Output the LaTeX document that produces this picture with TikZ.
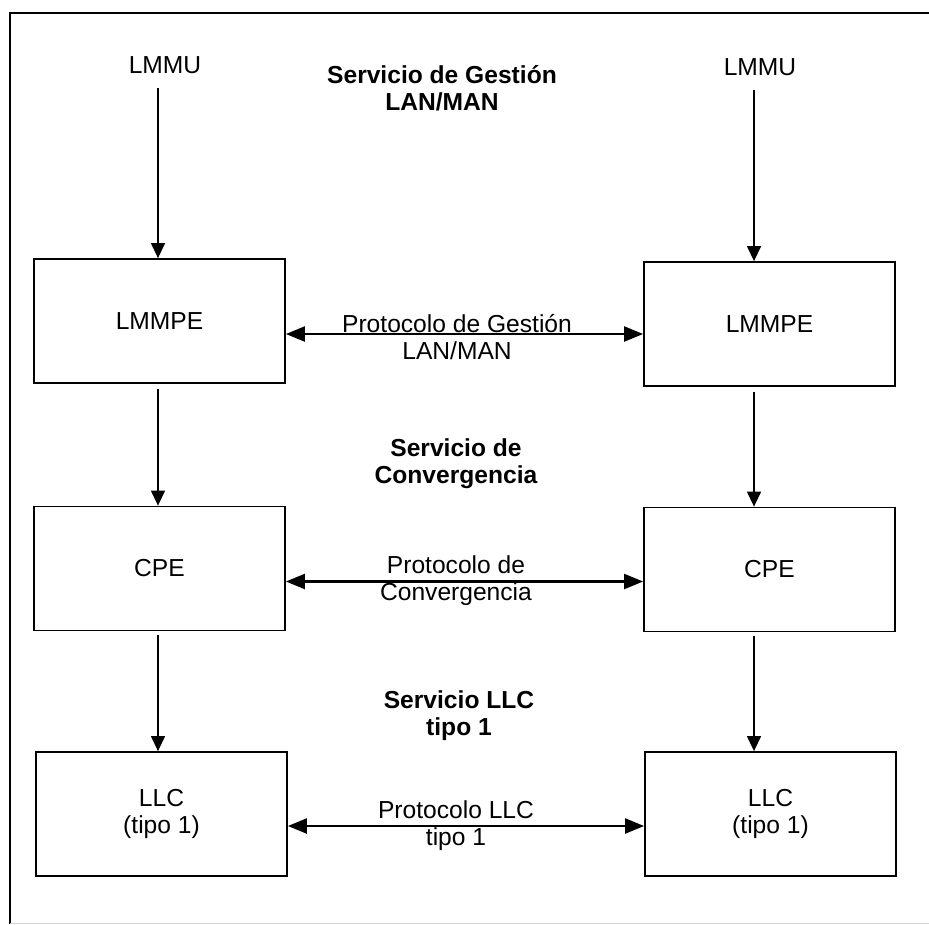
\documentclass[tikz,border=0pt]{standalone}
\usepackage{fontspec}
\setmainfont{Liberation Sans}
\usetikzlibrary{arrows.meta}
\newcommand{\diagfont}{\fontsize{24.6}{27}\selectfont}
\begin{document}
\begin{tikzpicture}[x=1pt,y=-1pt,
  layer/.style={draw, line width=1.8pt, minimum width=251pt, minimum height=124pt,
                inner sep=0pt, align=center, font=\diagfont},
  plain/.style={inner sep=0pt, align=center, font=\diagfont},
  service/.style={inner sep=0pt, align=center, font=\diagfont\bfseries},
  down/.style={line width=1.3pt, -{Triangle[length=15pt,width=14pt]}},
  peer/.style={line width=2.2pt, {Triangle[length=19pt,width=15pt]}-{Triangle[length=19pt,width=15pt]}},
]
\useasboundingbox (0,0) rectangle (929,924);

% outer frame (open to the right)
\draw[line width=1.8pt] (929,13) -- (10,13) -- (10,924);
\draw[gray!35, line width=1pt] (10,923) -- (929,923);

% column lines for the vertical arrows
\coordinate (colL) at (158,0);
\coordinate (colR) at (754,0);

% users
\node[plain] (lmmuL) at (165,65) {LMMU};
\node[plain] (lmmuR) at (760,67) {LMMU};

% protocol entities
\node[layer] (lmmpeL) at (159.5,321) {LMMPE};
\node[layer] (lmmpeR) at (769.5,324) {LMMPE};
\node[layer] (cpeL)   at (159.5,568.5) {CPE};
\node[layer] (cpeR)   at (769.5,569.5) {CPE};
\node[layer] (llcL)   at (161.5,814) {LLC\\(tipo 1)};
\node[layer] (llcR)   at (770.5,814) {LLC\\(tipo 1)};

% service labels
\node[service] (svc1) at (442,88)  {Servicio de Gestión\\LAN/MAN};
\node[service] (svc2) at (456,464) {Servicio de\\Convergencia};
\node[service] (svc3) at (459,716) {Servicio LLC\\tipo 1};

% vertical service arrows
\draw[down, shorten <=14pt] (lmmuL.south -| colL) -- (lmmpeL.north -| colL);
\draw[down, shorten <=14pt] (lmmuR.south -| colR) -- (lmmpeR.north -| colR);
\draw[down, shorten <=5pt] (lmmpeL.south -| colL) -- (cpeL.north -| colL);
\draw[down, shorten <=5pt] (lmmpeR.south -| colR) -- (cpeR.north -| colR);
\draw[down, shorten <=4pt] (cpeL.south -| colL) -- (llcL.north -| colL);
\draw[down, shorten <=4pt] (cpeR.south -| colR) -- (llcR.north -| colR);

% peer protocol arrows
\draw[peer] ([yshift=-13pt]lmmpeL.east) -- ([yshift=-13pt]lmmpeL.east -| lmmpeR.west);
\draw[peer] ([yshift=-13pt]cpeL.east) -- ([yshift=-13pt]cpeL.east -| cpeR.west);
\draw[peer] ([yshift=-12pt]llcL.east) -- ([yshift=-12pt]llcL.east -| llcR.west);

% protocol labels
\node[plain] (prot1) at (457,337) {Protocolo de Gestión\\LAN/MAN};
\node[plain] (prot2) at (456,581) {Protocolo de\\Convergencia};
\node[plain] (prot3) at (456,826) {Protocolo LLC\\tipo 1};
\end{tikzpicture}
\end{document}
